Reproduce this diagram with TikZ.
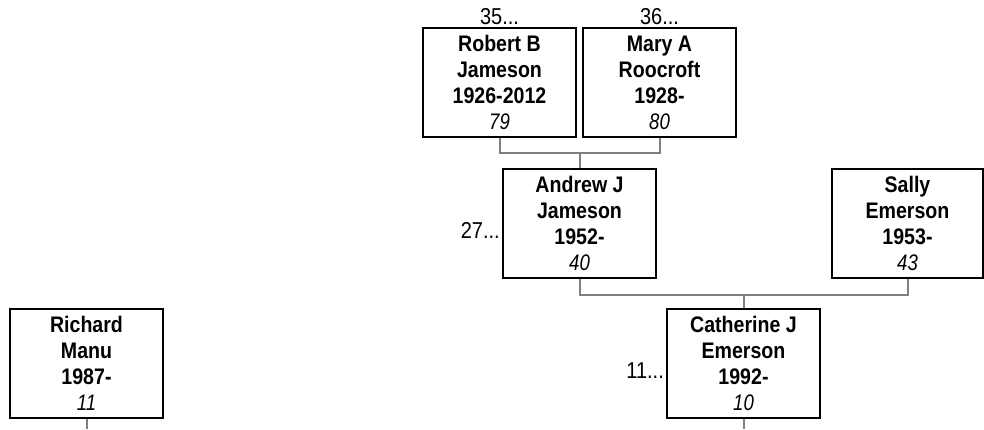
\documentclass[tikz,border=0pt]{standalone}
\usepackage{fontspec}
\setmainfont{Liberation Sans}[FakeStretch=0.87]
\usetikzlibrary{positioning}
\tikzset{
  personbox/.style={draw=black,line width=2pt,minimum width=153pt,minimum height=109pt,
    inner sep=0pt,align=center,font=\fontsize{22.5}{26}\selectfont\bfseries},
  famline/.style={draw=gray,line width=2pt},
  reflabel/.style={inner sep=2pt,font=\fontsize{23}{26}\selectfont}
}
\newcommand{\AgeText}[1]{\\[0pt]{\mdseries\itshape\scalebox{0.95}[1]{#1}}}
\begin{document}
\begin{tikzpicture}[x=1pt,y=-1pt]
  \useasboundingbox (0,0) rectangle (984,429);
  % grandparents
  \node[personbox] (robert) at (499.5,82.5) {Robert B\\Jameson\\1926-2012\AgeText{79}};
  \node[personbox] (mary) at (659.5,82.5) {Mary A\\Roocroft\\1928-\AgeText{80}};
  % parents
  \node[personbox] (andrew) at (579.5,223) {Andrew J\\Jameson\\1952-\AgeText{40}};
  \node[personbox,minimum width=151pt] (sally) at (907.5,223.5) {Sally\\Emerson\\1953-\AgeText{43}};
  % children
  \node[personbox] (catherine) at (743.5,363) {Catherine J\\Emerson\\1992-\AgeText{10}};
  \node[personbox] (richard) at (86.5,363) {Richard\\Manu\\1987-\AgeText{11}};
  % reference numbers
  \node[reflabel,anchor=south] (refrobert) at (robert.north) {35...};
  \node[reflabel,anchor=south] (refmary) at (mary.north) {36...};
  \node[reflabel,anchor=east] (refandrew) at ([yshift=-7pt]andrew.west) {27...};
  \node[reflabel,anchor=east] (refcatherine) at ([yshift=-8pt]catherine.west) {11...};
  % connectors
  \coordinate (rmbar) at (579.5,153);
  \coordinate (asbar) at (743.5,295);
  \coordinate (catherineend) at (743.5,429);
  \coordinate (richardend) at (86.5,429);
  \draw[famline] (robert.south) |- (rmbar) -| (mary.south);
  \draw[famline] (rmbar) -- (andrew.north);
  \draw[famline] (andrew.south) |- (asbar) -| (sally.south);
  \draw[famline] (asbar) -- (catherine.north);
  \draw[famline] (catherine.south) -- (catherineend);
  \draw[famline] (richard.south) -- (richardend);
\end{tikzpicture}
\end{document}
